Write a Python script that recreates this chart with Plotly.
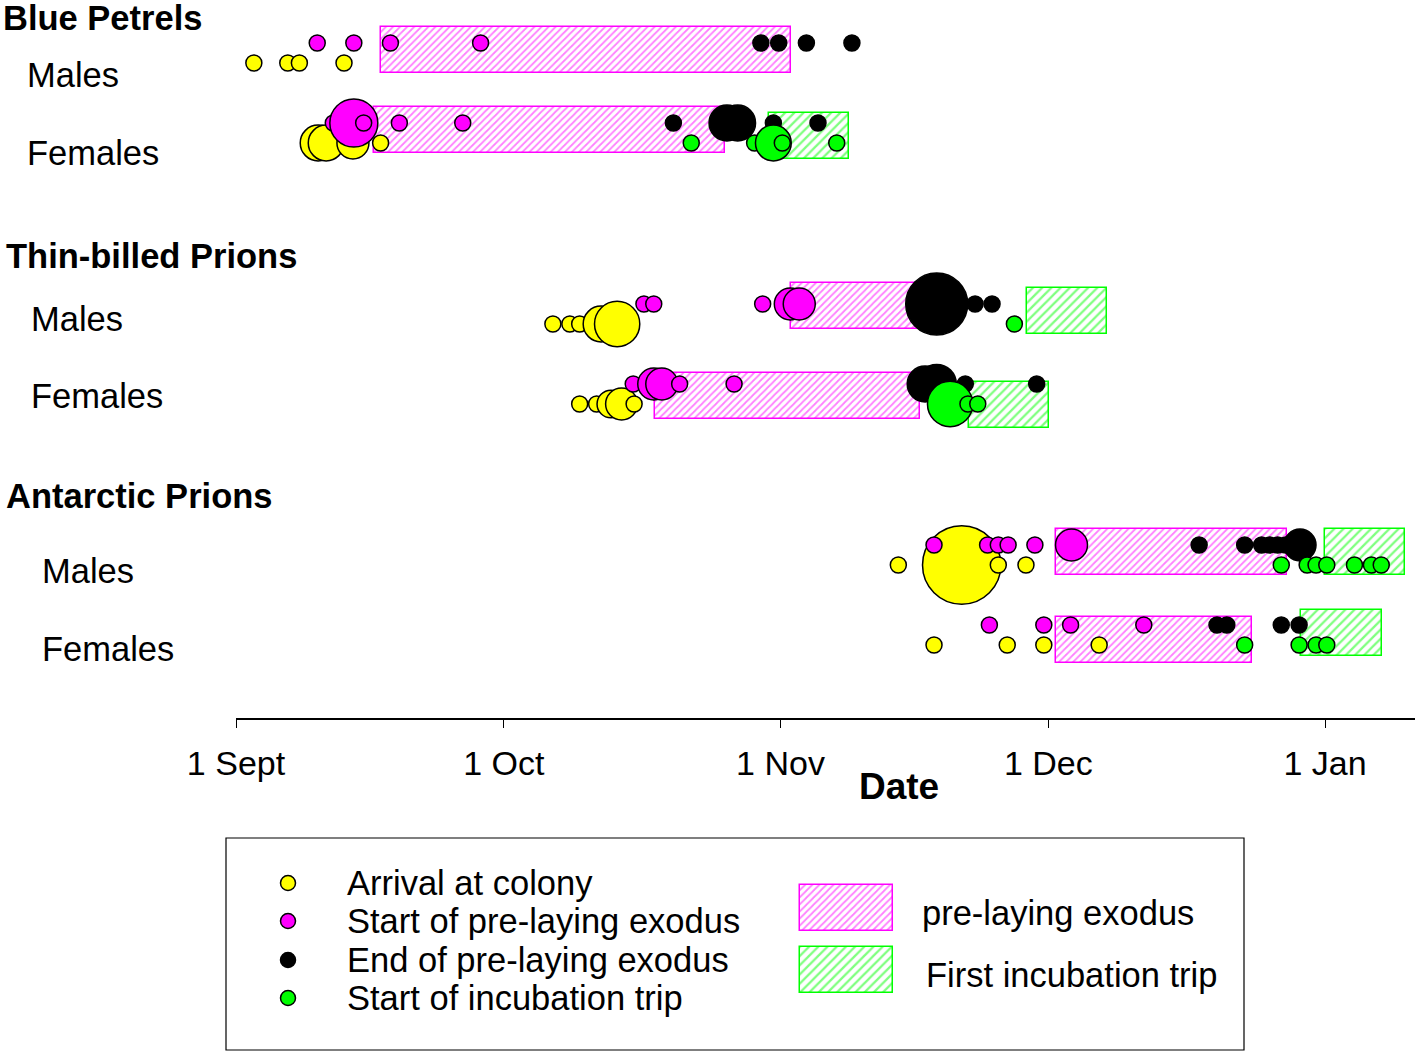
import numpy as np
import plotly.graph_objects as go

# ---------------- DATA (days after 1 September) ----------------
groups = ["BP-M", "BP-F", "TBP-M", "TBP-F", "AP-M", "AP-F"]

arrival_grp = ["BP-M"] * 4 + ["BP-F"] * 4 + ["TBP-M"] * 5 + ["TBP-F"] * 5 + ["AP-M"] * 4 + ["AP-F"] * 4
arrival_day = [2.0, 5.8, 7.1, 12.1,
               9.2, 10.1, 13.1, 16.2,
               35.5, 37.4, 38.5, 40.9, 42.7,
               38.5, 40.4, 42.0, 43.2, 44.6,
               74.2, 81.3, 85.4, 88.5,
               78.2, 86.4, 90.5, 96.7]
arrival_n = [1, 1, 1, 1,
             5, 5, 4, 1,
             1, 1, 1, 5, 8,
             1, 1, 3, 4, 1,
             1, 24, 1, 1,
             1, 1, 1, 1]

start_grp = ["BP-M"] * 4 + ["BP-F"] * 5 + ["TBP-M"] * 5 + ["TBP-F"] * 5 + ["AP-M"] * 6 + ["AP-F"] * 4
start_day = [9.1, 13.2, 17.3, 27.4,
             10.9, 13.2, 14.3, 18.3, 25.4,
             45.7, 46.8, 59.0, 62.1, 63.1,
             44.5, 46.8, 47.7, 49.7, 55.8,
             78.2, 84.2, 85.4, 86.5, 89.5, 93.6,
             84.4, 90.5, 93.5, 101.7]
start_n = [1, 1, 1, 1,
           1, 9, 1, 1, 1,
           1, 1, 1, 4, 4,
           1, 4, 4, 1, 1,
           1, 1, 1, 1, 1, 4,
           1, 1, 1, 1]

end_grp = ["BP-M"] * 4 + ["BP-F"] * 5 + ["TBP-M"] * 3 + ["TBP-F"] * 4 + ["AP-M"] * 7 + ["AP-F"] * 4
end_day = [58.8, 60.8, 63.9, 69.0,
           49.0, 55.0, 56.2, 60.2, 65.2,
           78.5, 82.8, 84.7,
           77.2, 78.5, 81.7, 89.7,
           107.9, 113.0, 114.9, 115.8, 116.7, 117.6, 119.2,
           109.9, 111.0, 117.1, 119.1]
end_n = [1, 1, 1, 1,
         1, 5, 5, 1, 1,
         15, 1, 1,
         5, 6, 1, 1,
         1, 1, 1, 1, 1, 1, 4,
         1, 1, 1, 1]

incub_grp = ["BP-F"] * 5 + ["TBP-M"] * 1 + ["TBP-F"] * 3 + ["AP-M"] * 7 + ["AP-F"] * 4
incub_day = [51.0, 58.1, 60.2, 61.2, 67.3,
             87.2,
             80.0, 82.0, 83.1,
             117.1, 120.0, 121.0, 122.2, 125.3, 127.2, 128.3,
             113.0, 119.1, 121.0, 122.2]
incub_n = [1, 1, 5, 1, 1,
           1,
           8, 1, 1,
           1, 1, 1, 1, 1, 1, 1,
           1, 1, 1, 1]

exodus_grp = ["BP-M", "BP-F", "TBP-M", "TBP-F", "AP-M", "AP-F"]
exodus_start = [16.2, 15.5, 62.2, 46.9, 91.9, 91.9]
exodus_end = [62.2, 54.8, 78.2, 76.6, 117.7, 113.8]

trip_grp = ["BP-F", "TBP-M", "TBP-F", "AP-M", "AP-F"]
trip_start = [59.7, 88.6, 82.1, 122.0, 119.3]
trip_end = [68.7, 97.6, 91.1, 131.0, 128.4]

tick_days = [0, 30, 61, 91, 122]
tick_text = ["1 Sept", "1 Oct", "1 Nov", "1 Dec", "1 Jan"]

group_titles = ["Blue Petrels", "Thin-billed Prions", "Antarctic Prions"]
sex_labels = ["Males", "Females"]

# ---------------- LAYOUT CONSTANTS ----------------
W, H = 1418, 1053
AXIS_Y = 718
FONT = "Liberation Sans, Arial, sans-serif"
FS = 34.5
YEL, MAG, BLK, GRN = "#ffff00", "#ff00ff", "#000000", "#00ff00"

row_top = {"BP-M": 43, "BP-F": 123, "TBP-M": 304, "TBP-F": 384, "AP-M": 545, "AP-F": 625}
exodus_center = {"BP-M": 50, "BP-F": 130, "TBP-M": 305.5, "TBP-F": 396, "AP-M": 552, "AP-F": 640}
trip_center = {"BP-F": 136, "TBP-M": 311, "TBP-F": 405, "AP-M": 552, "AP-F": 633}
BAR_H = 46


def msize(ns):
    return [16 * np.sqrt(n) for n in ns]


fig = go.Figure()


def hatched(shape_color, size):
    return dict(color="white", line=dict(color=shape_color, width=1.5),
                pattern=dict(shape="/", fgcolor=shape_color, bgcolor="white", size=size, solidity=0.35))


# rectangles
fig.add_trace(go.Bar(orientation="h",
                     y=[exodus_center[g] for g in exodus_grp],
                     x=[e - s for s, e in zip(exodus_start, exodus_end)],
                     base=exodus_start, width=BAR_H, marker=hatched(MAG, 5),
                     showlegend=False, hoverinfo="skip"))
fig.add_trace(go.Bar(orientation="h",
                     y=[trip_center[g] for g in trip_grp],
                     x=[e - s for s, e in zip(trip_start, trip_end)],
                     base=trip_start, width=BAR_H, marker=hatched(GRN, 6.5),
                     showlegend=False, hoverinfo="skip"))


def add_points(days, grps, ns, color, lower):
    fig.add_trace(go.Scatter(
        x=days, y=[row_top[g] + (20 if lower else 0) for g in grps], mode="markers",
        marker=dict(size=msize(ns), color=color, opacity=1,
                    line=dict(color="black", width=1.5)),
        showlegend=False, hoverinfo="skip"))


add_points(arrival_day, arrival_grp, arrival_n, YEL, True)
add_points(start_day, start_grp, start_n, MAG, False)
add_points(end_day, end_grp, end_n, BLK, False)
add_points(incub_day, incub_grp, incub_n, GRN, True)

# ---------------- legend (overlay pixel axes) ----------------
leg_y = [883, 921, 960, 998]
leg_cols = [YEL, MAG, BLK, GRN]
leg_txt = ["Arrival at colony", "Start of pre-laying exodus", "End of pre-laying exodus",
           "Start of incubation trip"]
fig.add_trace(go.Scatter(x=[288] * 4, y=leg_y, mode="markers", xaxis="x2", yaxis="y2",
                         marker=dict(size=15, color=leg_cols, line=dict(color="black", width=1.5)),
                         showlegend=False, hoverinfo="skip"))
fig.add_trace(go.Bar(orientation="h", y=[908], x=[93], base=[800], width=46,
                     xaxis="x2", yaxis="y2", marker=hatched(MAG, 5), showlegend=False, hoverinfo="skip"))
fig.add_trace(go.Bar(orientation="h", y=[970], x=[93], base=[800], width=46,
                     xaxis="x2", yaxis="y2", marker=hatched(GRN, 6.5), showlegend=False, hoverinfo="skip"))

ann = []
for yy, t in zip(leg_y, leg_txt):
    ann.append(dict(x=345, y=yy, text=t, xref="x2", yref="y2", xanchor="left", yanchor="middle",
                    showarrow=False, font=dict(size=FS, color="black", family=FONT)))
ann.append(dict(x=920, y=913, text="pre-laying exodus", xref="x2", yref="y2", xanchor="left",
                yanchor="middle", showarrow=False, font=dict(size=FS, color="black", family=FONT)))
ann.append(dict(x=924, y=975, text="First incubation trip", xref="x2", yref="y2", xanchor="left",
                yanchor="middle", showarrow=False, font=dict(size=FS, color="black", family=FONT)))

# group titles and sex labels
title_pos = [(0.5, 18), (4, 256), (4, 496)]
for (x, y), t in zip(title_pos, group_titles):
    ann.append(dict(x=x, y=y, text="<b>" + t + "</b>", xref="x2", yref="y2", xanchor="left",
                    yanchor="middle", showarrow=False, font=dict(size=FS, color="black", family=FONT)))
sex_pos = [(25, 75), (25, 153), (29, 319), (29, 396), (40, 571), (40, 649)]
for i, (x, y) in enumerate(sex_pos):
    ann.append(dict(x=x, y=y, text=sex_labels[i % 2], xref="x2", yref="y2", xanchor="left",
                    yanchor="middle", showarrow=False, font=dict(size=FS, color="black", family=FONT)))

ann.append(dict(x=899, y=786, text="<b>Date</b>", xref="x2", yref="y2", xanchor="center",
                yanchor="middle", showarrow=False, font=dict(size=37, color="black", family=FONT)))

x0_px, x1_px = 236, 1415
px_per_day = (1325 - 236) / 122.0

fig.update_layout(
    width=W, height=H, autosize=False,
    margin=dict(l=0, r=0, t=0, b=0, pad=0, autoexpand=False),
    paper_bgcolor="white", plot_bgcolor="rgba(0,0,0,0)",
    barmode="overlay", bargap=0,
    showlegend=False,
    font=dict(family=FONT, color="black"),
    xaxis=dict(domain=[x0_px / W, x1_px / W], range=[0, (x1_px - x0_px) / px_per_day],
               anchor="y", showline=True, linecolor="black", linewidth=1.6,
               ticks="outside", ticklen=8, tickwidth=1.2, tickcolor="black",
               tickmode="array", tickvals=tick_days, ticktext=tick_text,
               tickfont=dict(size=34, family=FONT, color="black"), ticklabelstandoff=6,
               showgrid=False, zeroline=False, automargin=False),
    yaxis=dict(domain=[1 - AXIS_Y / H, 1], range=[AXIS_Y, 0], visible=False,
               showgrid=False, zeroline=False, automargin=False),
    xaxis2=dict(domain=[0, 1], range=[0, W], anchor="y2", visible=False, automargin=False),
    yaxis2=dict(domain=[0, 1], range=[H, 0], anchor="x2", visible=False, automargin=False),
    annotations=ann,
    shapes=[dict(type="rect", xref="x2", yref="y2", x0=226, y0=838, x1=1244, y1=1050,
                 line=dict(color="black", width=1.2), fillcolor="rgba(0,0,0,0)")],
)

fig.write_html("out.html", config={"displayModeBar": False},
               post_script="document.body.style.margin='0';document.body.style.padding='0';")
